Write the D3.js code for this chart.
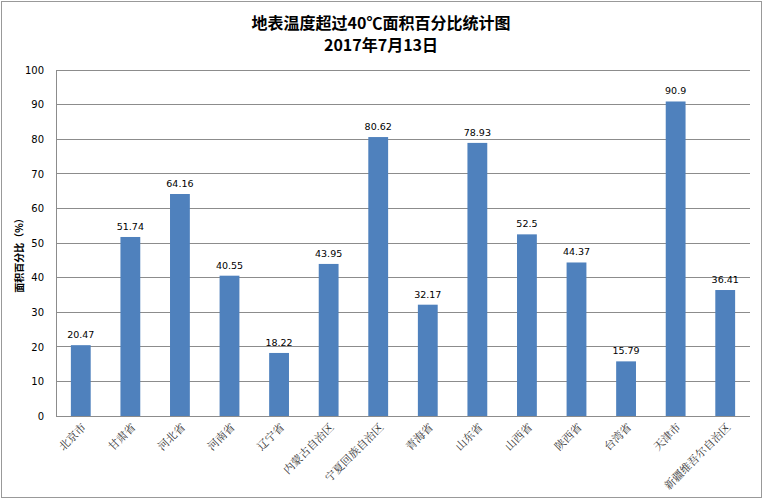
<!DOCTYPE html>
<html><head><meta charset="utf-8">
<script src="https://cdn.jsdelivr.net/npm/d3@7"></script>
<style>body{margin:0;background:#fff}</style>
</head><body>
<svg id="chart" width="763" height="500"></svg>
<script>
var categories = ['北京市','甘肃省','河北省','河南省','辽宁省','内蒙古自治区','宁夏回族自治区','青海省','山东省','山西省','陕西省','台湾省','天津市','新疆维吾尔自治区'];
var values = [20.47, 51.74, 64.16, 40.55, 18.22, 43.95, 80.62, 32.17, 78.93, 52.5, 44.37, 15.79, 90.9, 36.41];
var valueLabels = ['20.47','51.74','64.16','40.55','18.22','43.95','80.62','32.17','78.93','52.5','44.37','15.79','90.9','36.41'];
var yTicks = [0,10,20,30,40,50,60,70,80,90,100];

var svg = d3.select('#chart');
var margin = {left: 56, right: 13, top: 70, bottom: 84};
var w = 763 - margin.left - margin.right, h = 500 - margin.top - margin.bottom;

svg.append('rect').attr('x', 1.5).attr('y', 1.5).attr('width', 760).attr('height', 496)
  .attr('fill', '#fff').attr('stroke', '#999');

var g = svg.append('g').attr('transform', 'translate(' + margin.left + ',' + margin.top + ')');
var x = d3.scaleBand().domain(categories).range([0, w]).paddingInner(0.6).paddingOuter(0.3);
var y = d3.scaleLinear().domain([0, 100]).range([h, 0]);

// grid
g.selectAll('.grid').data(yTicks).enter().append('line')
  .attr('x1', 0).attr('x2', w).attr('y1', y).attr('y2', y)
  .attr('stroke', '#8c8c8c').attr('stroke-width', 1).attr('shape-rendering', 'crispEdges');

var ya = g.append('g').call(d3.axisLeft(y).tickValues(yTicks).tickSize(0).tickPadding(12));
ya.select('.domain').attr('stroke', '#8c8c8c');
ya.selectAll('text').attr('font-family', 'DejaVu Sans').attr('font-size', 10).attr('fill', '#000');

g.selectAll('.bar').data(values).enter().append('rect')
  .attr('x', function(d, i) { return x(categories[i]); })
  .attr('y', function(d) { return y(d); })
  .attr('width', x.bandwidth())
  .attr('height', function(d) { return h - y(d); })
  .attr('fill', '#4f81bd');

g.selectAll('.vl').data(values).enter().append('text')
  .attr('x', function(d, i) { return x(categories[i]) + x.bandwidth() / 2; })
  .attr('y', function(d) { return y(d) - 7; })
  .attr('text-anchor', 'middle').attr('font-family', 'DejaVu Sans').attr('font-size', 9.5)
  .text(function(d, i) { return valueLabels[i]; });

g.selectAll('.cl').data(categories).enter().append('text')
  .attr('transform', function(d) { return 'translate(' + (x(d) + x.bandwidth() / 2 + 6) + ',' + (h + 12) + ') rotate(-45)'; })
  .attr('text-anchor', 'end').attr('font-family', 'Noto Serif CJK SC, serif').attr('font-size', 11).attr('fill', '#333')
  .text(function(d) { return d; });

svg.append('text').attr('transform', 'translate(23,' + (margin.top + h / 2 + 10) + ') rotate(-90)')
  .attr('text-anchor', 'middle').attr('font-family', 'Noto Sans CJK SC').attr('font-weight', 'bold').attr('font-size', 10)
  .text('面积百分比（%）');

svg.append('text').attr('x', 381).attr('y', 29).attr('text-anchor', 'middle')
  .attr('font-family', 'Noto Sans CJK SC').attr('font-weight', 'bold').attr('font-size', 16)
  .text('地表温度超过40℃面积百分比统计图');
svg.append('text').attr('x', 381).attr('y', 51).attr('text-anchor', 'middle')
  .attr('font-family', 'Noto Sans CJK SC').attr('font-weight', 'bold').attr('font-size', 16)
  .text('2017年7月13日');
</script>
</body></html>
